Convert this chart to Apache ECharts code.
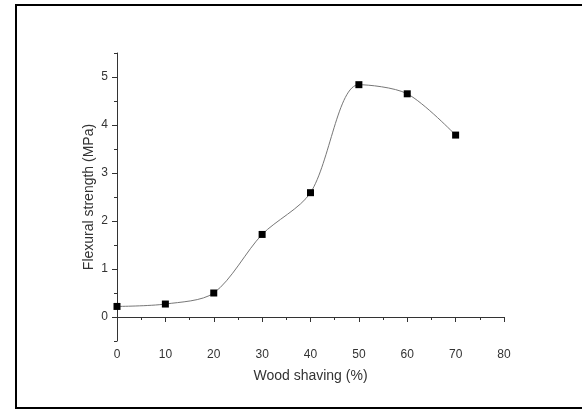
<!DOCTYPE html>
<html>
<head>
<meta charset="utf-8">
<script src="https://cdn.jsdelivr.net/npm/echarts@6/dist/echarts.min.js"></script>
<style>
  html, body { margin: 0; padding: 0; background: #fff; }
  #chart { width: 582px; height: 410px; }
</style>
</head>
<body>
<div id="chart"></div>
<script>
// data
const woodShaving = [0, 10, 20, 30, 40, 50, 60, 70]
const flexuralStrength = [0.22, 0.27, 0.5, 1.72, 2.59, 4.84, 4.65, 3.79]
const yMajorTicks = [0, 1, 2, 3, 4, 5]
const yMinorTicks = [-0.5, 0.5, 1.5, 2.5, 3.5, 4.5, 5.5]

const axisColor = '#333'
const textColor = '#333'
const fontFamily = '"Liberation Sans", Arial, sans-serif'

const chart = echarts.init(document.getElementById('chart'), null, { renderer: 'canvas' })

const option = {
  animation: false,
  backgroundColor: '#fff',
  graphic: [
    {
      type: 'rect',
      shape: { x: 16, y: 5, width: 600, height: 403 },
      style: { fill: 'none', stroke: '#000', lineWidth: 2 },
      silent: true
    }
  ],
  grid: { left: 117, right: 78, top: 53, bottom: 69 },
  xAxis: {
    type: 'value',
    min: 0,
    max: 80,
    interval: 10,
    name: 'Wood shaving (%)',
    nameLocation: 'middle',
    nameGap: 28,
    nameTextStyle: { color: textColor, fontSize: 14, fontFamily },
    axisLine: { lineStyle: { color: axisColor, width: 1 } },
    axisTick: { length: 5, lineStyle: { color: axisColor } },
    minorTick: { show: true, splitNumber: 2, length: 3, lineStyle: { color: axisColor } },
    axisLabel: { color: textColor, fontSize: 12, fontFamily, margin: 8 },
    splitLine: { show: false }
  },
  yAxis: [
    {
      type: 'value',
      min: -0.5,
      max: 5.5,
      interval: 0.5,
      name: 'Flexural strength (MPa)',
      nameLocation: 'middle',
      nameGap: 21,
      nameMoveOverlap: false,
      nameTextStyle: { color: textColor, fontSize: 14, fontFamily },
      axisLine: { show: true, onZero: false, lineStyle: { color: axisColor, width: 1 } },
      axisTick: { show: true, length: 5, customValues: yMajorTicks, lineStyle: { color: axisColor } },
      axisLabel: { color: textColor, fontSize: 12, fontFamily, margin: 9, customValues: yMajorTicks },
      splitLine: { show: false }
    },
    {
      type: 'value',
      position: 'left',
      min: -0.5,
      max: 5.5,
      interval: 0.5,
      axisLine: { show: false },
      axisTick: { show: true, length: 3, customValues: yMinorTicks, lineStyle: { color: axisColor } },
      axisLabel: { show: false },
      splitLine: { show: false }
    }
  ],
  series: [
    {
      type: 'line',
      data: woodShaving.map((x, i) => [x, flexuralStrength[i]]),
      smooth: 0.3,
      symbol: 'rect',
      symbolSize: 7,
      itemStyle: { color: '#000' },
      lineStyle: { color: '#777', width: 1 },
      z: 3
    }
  ]
}

chart.setOption(option)
</script>
</body>
</html>
